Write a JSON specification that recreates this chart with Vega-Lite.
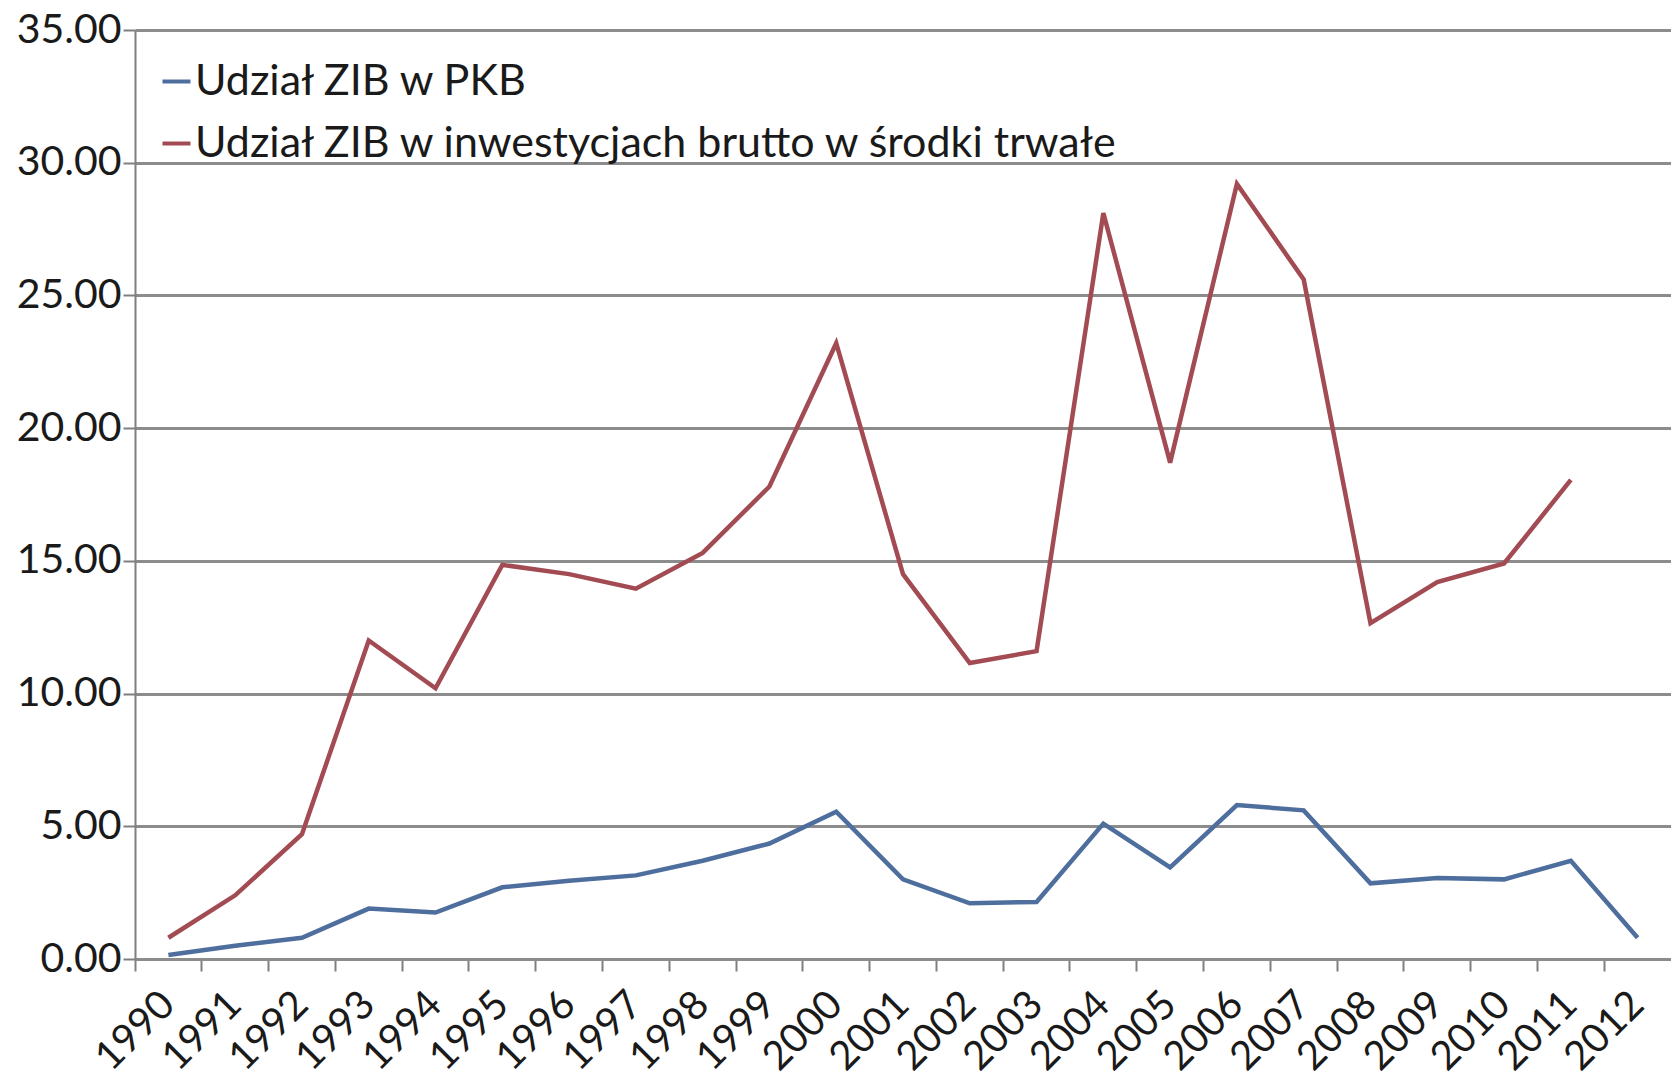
{
  "$schema": "https://vega.github.io/schema/vega-lite/v6.json",
  "width": 1536,
  "height": 929,
  "autosize": {"type": "none"},
  "padding": {"left": 135, "top": 30, "right": 0, "bottom": 122},
  "background": "white",
  "config": {
    "font": "Lato",
    "view": {"stroke": null}
  },
  "data": {
    "values": [
      {"rok": "1990", "seria": "Udział ZIB w PKB", "wartosc": 0.15},
      {"rok": "1991", "seria": "Udział ZIB w PKB", "wartosc": 0.5},
      {"rok": "1992", "seria": "Udział ZIB w PKB", "wartosc": 0.8},
      {"rok": "1993", "seria": "Udział ZIB w PKB", "wartosc": 1.9},
      {"rok": "1994", "seria": "Udział ZIB w PKB", "wartosc": 1.75},
      {"rok": "1995", "seria": "Udział ZIB w PKB", "wartosc": 2.7},
      {"rok": "1996", "seria": "Udział ZIB w PKB", "wartosc": 2.95},
      {"rok": "1997", "seria": "Udział ZIB w PKB", "wartosc": 3.15},
      {"rok": "1998", "seria": "Udział ZIB w PKB", "wartosc": 3.7},
      {"rok": "1999", "seria": "Udział ZIB w PKB", "wartosc": 4.35},
      {"rok": "2000", "seria": "Udział ZIB w PKB", "wartosc": 5.55},
      {"rok": "2001", "seria": "Udział ZIB w PKB", "wartosc": 3.0},
      {"rok": "2002", "seria": "Udział ZIB w PKB", "wartosc": 2.1},
      {"rok": "2003", "seria": "Udział ZIB w PKB", "wartosc": 2.15},
      {"rok": "2004", "seria": "Udział ZIB w PKB", "wartosc": 5.1},
      {"rok": "2005", "seria": "Udział ZIB w PKB", "wartosc": 3.45},
      {"rok": "2006", "seria": "Udział ZIB w PKB", "wartosc": 5.8},
      {"rok": "2007", "seria": "Udział ZIB w PKB", "wartosc": 5.6},
      {"rok": "2008", "seria": "Udział ZIB w PKB", "wartosc": 2.85},
      {"rok": "2009", "seria": "Udział ZIB w PKB", "wartosc": 3.05},
      {"rok": "2010", "seria": "Udział ZIB w PKB", "wartosc": 3.0},
      {"rok": "2011", "seria": "Udział ZIB w PKB", "wartosc": 3.7},
      {"rok": "2012", "seria": "Udział ZIB w PKB", "wartosc": 0.8},
      {"rok": "1990", "seria": "Udział ZIB w inwestycjach brutto w środki trwałe", "wartosc": 0.8},
      {"rok": "1991", "seria": "Udział ZIB w inwestycjach brutto w środki trwałe", "wartosc": 2.4},
      {"rok": "1992", "seria": "Udział ZIB w inwestycjach brutto w środki trwałe", "wartosc": 4.7},
      {"rok": "1993", "seria": "Udział ZIB w inwestycjach brutto w środki trwałe", "wartosc": 12.0},
      {"rok": "1994", "seria": "Udział ZIB w inwestycjach brutto w środki trwałe", "wartosc": 10.2},
      {"rok": "1995", "seria": "Udział ZIB w inwestycjach brutto w środki trwałe", "wartosc": 14.85},
      {"rok": "1996", "seria": "Udział ZIB w inwestycjach brutto w środki trwałe", "wartosc": 14.5},
      {"rok": "1997", "seria": "Udział ZIB w inwestycjach brutto w środki trwałe", "wartosc": 13.95},
      {"rok": "1998", "seria": "Udział ZIB w inwestycjach brutto w środki trwałe", "wartosc": 15.3},
      {"rok": "1999", "seria": "Udział ZIB w inwestycjach brutto w środki trwałe", "wartosc": 17.8},
      {"rok": "2000", "seria": "Udział ZIB w inwestycjach brutto w środki trwałe", "wartosc": 23.2},
      {"rok": "2001", "seria": "Udział ZIB w inwestycjach brutto w środki trwałe", "wartosc": 14.5},
      {"rok": "2002", "seria": "Udział ZIB w inwestycjach brutto w środki trwałe", "wartosc": 11.15},
      {"rok": "2003", "seria": "Udział ZIB w inwestycjach brutto w środki trwałe", "wartosc": 11.6},
      {"rok": "2004", "seria": "Udział ZIB w inwestycjach brutto w środki trwałe", "wartosc": 28.1},
      {"rok": "2005", "seria": "Udział ZIB w inwestycjach brutto w środki trwałe", "wartosc": 18.7},
      {"rok": "2006", "seria": "Udział ZIB w inwestycjach brutto w środki trwałe", "wartosc": 29.2},
      {"rok": "2007", "seria": "Udział ZIB w inwestycjach brutto w środki trwałe", "wartosc": 25.6},
      {"rok": "2008", "seria": "Udział ZIB w inwestycjach brutto w środki trwałe", "wartosc": 12.65},
      {"rok": "2009", "seria": "Udział ZIB w inwestycjach brutto w środki trwałe", "wartosc": 14.2},
      {"rok": "2010", "seria": "Udział ZIB w inwestycjach brutto w środki trwałe", "wartosc": 14.9},
      {"rok": "2011", "seria": "Udział ZIB w inwestycjach brutto w środki trwałe", "wartosc": 18.05}
    ]
  },
  "mark": {"type": "line", "strokeWidth": 4.5, "strokeJoin": "miter"},
  "encoding": {
    "x": {
      "field": "rok",
      "type": "ordinal",
      "scale": {"type": "band", "paddingInner": 0, "paddingOuter": 0},
      "axis": {
        "title": null,
        "labelAngle": -45,
        "labelAlign": "right",
        "labelBaseline": "middle",
        "labelFontSize": 40,
        "labelColor": "#1a1a1a",
        "labelPadding": 27,
        "labelDx": 6,
        "bandPosition": 0,
        "ticks": true,
        "tickSize": 12,
        "tickColor": "#7f7f7f",
        "tickWidth": 2,
        "domainColor": "#8c8c8c",
        "domainWidth": 3,
        "grid": false
      }
    },
    "y": {
      "field": "wartosc",
      "type": "quantitative",
      "scale": {"domain": [0, 35], "nice": false, "zero": true},
      "axis": {
        "title": null,
        "values": [0, 5, 10, 15, 20, 25, 30, 35],
        "format": ".2f",
        "labelFontSize": 41,
        "labelColor": "#1a1a1a",
        "labelPadding": 2,
        "tickSize": 12,
        "tickColor": "#7f7f7f",
        "tickWidth": 2,
        "domainColor": "#7f7f7f",
        "domainWidth": 2,
        "grid": true,
        "gridColor": "#8c8c8c",
        "gridWidth": 3
      }
    },
    "color": {
      "field": "seria",
      "type": "nominal",
      "scale": {
        "domain": ["Udział ZIB w PKB", "Udział ZIB w inwestycjach brutto w środki trwałe"],
        "range": ["#4E6E9E", "#A24B53"]
      },
      "legend": {
        "title": null,
        "orient": "none",
        "legendX": 20,
        "legendY": 30,
        "symbolType": "stroke",
        "symbolSize": 784,
        "symbolStrokeWidth": 4,
        "labelFontSize": 43,
        "labelColor": "#1a1a1a",
        "labelOffset": -3,
        "rowPadding": 18,
        "labelLimit": 1500
      }
    }
  }
}
